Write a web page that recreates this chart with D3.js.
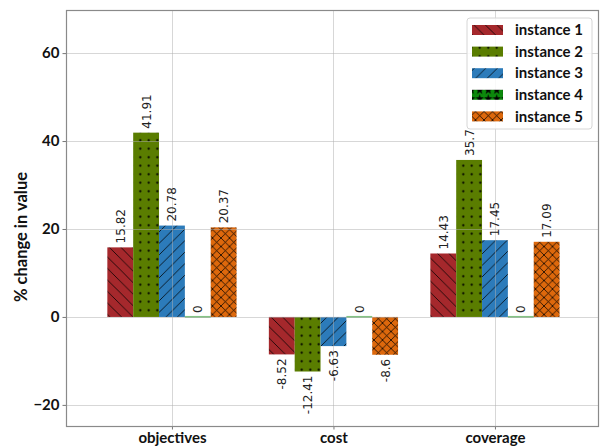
<!DOCTYPE html>
<html>
<head>
<meta charset="utf-8">
<script src="https://cdn.jsdelivr.net/npm/d3@7"></script>
<style>
  html, body { margin: 0; padding: 0; background: #fff; }
  svg { display: block; }
</style>
</head>
<body>
<svg id="chart" width="601" height="448"></svg>
<script>
// Categories and per-instance percentage changes
const categories = ["objectives", "cost", "coverage"];
const seriesNames = ["instance 1", "instance 2", "instance 3", "instance 4", "instance 5"];
const instance1 = [15.82, -8.52, 14.43];
const instance2 = [41.91, -12.41, 35.7];
const instance3 = [20.78, -6.63, 17.45];
const instance4 = [0, 0, 0];
const instance5 = [20.37, -8.6, 17.09];
const yTicks = [-20, 0, 20, 40, 60];
const yTickLabels = ["\u221220", "0", "20", "40", "60"];
const yLabel = "% change in value";

const series = [instance1, instance2, instance3, instance4, instance5];
const colors = ["#a5282c", "#5a7d00", "#2c7bba", "#0c8a0c", "#dd680c"];
const hatches = ["back", "dots", "fwd", "stars", "cross"];

const svg = d3.select("#chart");
const plot = { left: 66, right: 598, top: 10, bottom: 426 };

const x = d3.scaleLinear().domain([-0.656, 2.638]).range([plot.left, plot.right]);
const y = d3.scaleLinear().domain([-24.8, 69.8]).range([plot.bottom, plot.top]);
const barW = 0.16;

// Hatch patterns
const defs = svg.append("defs");
function makePattern(id, color, kind) {
  const P = (kind === "back" || kind === "fwd") ? 11.5 : 8.5;
  const p = defs.append("pattern").attr("id", id)
    .attr("patternUnits", "userSpaceOnUse")
    .attr("width", P).attr("height", P);
  p.append("rect").attr("width", P).attr("height", P).attr("fill", color);
  const ln = (x1, y1, x2, y2) => p.append("line")
    .attr("x1", x1).attr("y1", y1).attr("x2", x2).attr("y2", y2)
    .attr("stroke", "#000").attr("stroke-width", 0.9).attr("stroke-opacity", 0.85);
  if (kind === "back" || kind === "cross") {
    ln(-1, -1, P + 1, P + 1); ln(-1 - P, -1, 1, P + 1); ln(P - 1, -1, 2 * P + 1, P + 1);
  }
  if (kind === "fwd" || kind === "cross") {
    ln(-1, P + 1, P + 1, -1); ln(-1 - P, P + 1, 1, -1); ln(P - 1, P + 1, 2 * P + 1, -1);
  }
  if (kind === "dots") {
    p.append("circle").attr("cx", P / 2).attr("cy", P / 2).attr("r", 1.1).attr("fill", "#000");
  }
  if (kind === "stars") {
    const star = d3.symbol().type(d3.symbolStar).size(24);
    p.append("path").attr("d", star()).attr("transform", `translate(${P / 2},${P / 2})`).attr("fill", "#000");
  }
}
series.forEach((s, i) => makePattern("hatch" + i, colors[i], hatches[i]));

// Bars
const bars = svg.append("g");
series.forEach((vals, i) => {
  vals.forEach((v, c) => {
    const xc = c + (i - 2) * barW;
    const x0 = x(xc - barW / 2), x1 = x(xc + barW / 2);
    if (v === 0) {
      bars.append("line").attr("x1", x0).attr("x2", x1)
        .attr("y1", y(0)).attr("y2", y(0))
        .attr("stroke", colors[i]).attr("stroke-opacity", 0.5).attr("stroke-width", 2);
    } else {
      bars.append("rect")
        .attr("x", x0).attr("width", x1 - x0)
        .attr("y", y(Math.max(0, v))).attr("height", Math.abs(y(v) - y(0)))
        .attr("fill", `url(#hatch${i})`);
    }
  });
});

// Grid (drawn over bars)
const grid = svg.append("g").attr("stroke", "#b0b0b0").attr("stroke-opacity", 0.5).attr("stroke-width", 1);
yTicks.forEach(t => grid.append("line").attr("x1", plot.left).attr("x2", plot.right)
  .attr("y1", Math.round(y(t)) + 0.5).attr("y2", Math.round(y(t)) + 0.5));
categories.forEach((c, k) => grid.append("line").attr("y1", plot.top).attr("y2", plot.bottom)
  .attr("x1", Math.round(x(k)) + 0.5).attr("x2", Math.round(x(k)) + 0.5));

// Value labels
const labels = svg.append("g").attr("font-family", "DejaVu Sans, sans-serif")
  .attr("font-size", 12).attr("fill", "#222");
series.forEach((vals, i) => {
  vals.forEach((v, c) => {
    const xc = x(c + (i - 2) * barW);
    const pos = v >= 0;
    const yy = pos ? y(v) - 4 : y(v) + 4;
    labels.append("text")
      .attr("transform", `translate(${xc + 4.5},${yy}) rotate(-90)`)
      .attr("text-anchor", pos ? "start" : "end")
      .text(String(v));
  });
});

// Axes
const yAxis = d3.axisLeft(y).tickValues(yTicks).tickFormat((d, k) => yTickLabels[k]).tickSize(3.5).tickPadding(3);
const gy = svg.append("g").attr("transform", `translate(${plot.left},0)`).call(yAxis);
const xAxis = d3.axisBottom(x).tickValues(categories.map((c, k) => k)).tickFormat((d, k) => categories[k]).tickSize(3.5).tickPadding(3);
const gx = svg.append("g").attr("transform", `translate(0,${plot.bottom})`).call(xAxis);
[gx, gy].forEach(g => {
  g.select(".domain").remove();
  g.selectAll(".tick line").attr("stroke", "#777");
  g.selectAll(".tick text").attr("font-family", "Lato, sans-serif").attr("font-weight", 700)
    .attr("font-size", 15).attr("fill", "#111");
});

// Frame
svg.append("rect").attr("x", plot.left + 0.5).attr("y", plot.top + 0.5)
  .attr("width", plot.right - plot.left).attr("height", plot.bottom - plot.top)
  .attr("fill", "none").attr("stroke", "#8a8a8a").attr("stroke-width", 1.2);

// Y label
svg.append("text").attr("transform", `translate(27,237) rotate(-90)`)
  .attr("text-anchor", "middle").attr("font-family", "Lato, sans-serif").attr("font-weight", 700)
  .attr("font-size", 16.5).attr("fill", "#111").text(yLabel);

// Legend
const lg = svg.append("g").attr("transform", "translate(467,18)");
lg.append("rect").attr("width", 125).attr("height", 111).attr("rx", 3)
  .attr("fill", "#fff").attr("fill-opacity", 0.85).attr("stroke", "#d6d6d6");
seriesNames.forEach((n, i) => {
  const cy = 12 + i * 21.6;
  lg.append("rect").attr("x", 5).attr("y", cy - 5).attr("width", 31).attr("height", 10)
    .attr("fill", `url(#hatch${i})`);
  lg.append("text").attr("x", 48).attr("y", cy).attr("dy", "0.35em")
    .attr("font-family", "Lato, sans-serif").attr("font-weight", 700)
    .attr("font-size", 15).attr("fill", "#111").text(n);
});
</script>
</body>
</html>
